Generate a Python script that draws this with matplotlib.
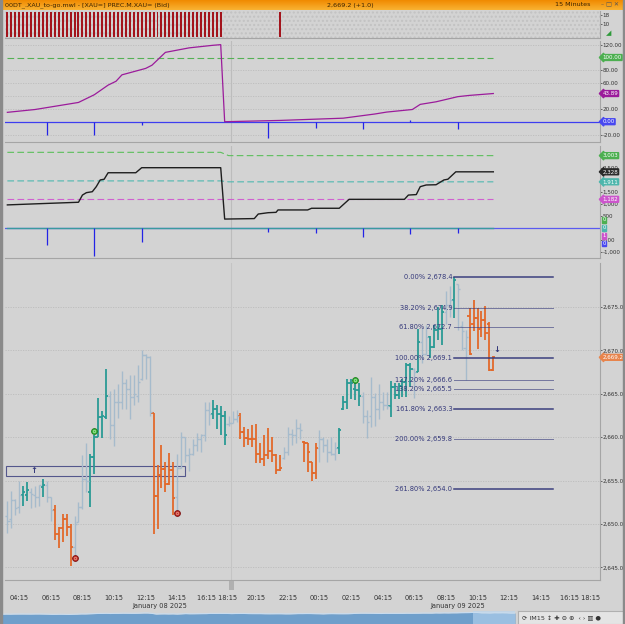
import matplotlib
matplotlib.use("Agg")
import matplotlib.pyplot as plt
from matplotlib.patches import Rectangle
from matplotlib.ticker import FixedLocator
import numpy as np

# ---- main chart: 15 minute OHLC bars, XAU ----
bar_open = [2650.9, 2650.6, 2652.8, 2652.0, 2653.3, 2653.3, 2653.7, 2653.3, 2653.1, 2654.3,
            2654.5, 2653.1, 2651.6, 2648.9, 2649.5, 2650.6, 2649.7, 2647.4, 2650.2, 2652.0,
            2655.2, 2653.7, 2657.7, 2660.0, 2662.3, 2662.3, 2664.8, 2661.4, 2664.0, 2664.1,
            2666.2, 2665.6, 2664.6, 2664.8, 2666.7, 2669.5, 2669.2, 2662.8, 2653.2, 2655.6,
            2656.3, 2654.6, 2656.2, 2653.1, 2656.4, 2660.0, 2657.9, 2658.1, 2659.1, 2659.8,
            2660.2, 2663.1, 2662.7, 2663.3, 2662.7, 2662.5, 2661.5, 2661.6, 2662.1, 2662.4,
            2660.6, 2659.9, 2659.8, 2659.8, 2658.1, 2657.5, 2657.9, 2658.4, 2658.0, 2656.2,
            2657.6, 2658.3, 2660.4, 2660.2, 2661.1, 2659.5, 2659.3, 2657.1, 2655.9, 2658.7,
            2659.8, 2659.1, 2658.3, 2658.1, 2658.7, 2663.3, 2664.1, 2666.2, 2665.6, 2665.4,
            2664.8, 2662.5, 2662.5, 2664.6, 2663.3, 2664.1, 2663.7, 2663.6, 2665.8, 2664.9,
            2665.9, 2666.4, 2668.3, 2667.9, 2667.5, 2671.0, 2669.6, 2671.5, 2670.4, 2672.3,
            2672.5, 2674.4, 2675.2, 2675.8, 2677.7, 2672.8, 2670.3, 2674.0, 2673.0, 2673.7,
            2672.5, 2673.5, 2673.0, 2667.7]
bar_high = [2652.7, 2653.8, 2652.9, 2655.0, 2654.4, 2654.8, 2654.2, 2654.4, 2654.5, 2655.2,
            2655.0, 2653.1, 2652.2, 2649.7, 2651.1, 2651.1, 2650.0, 2650.9, 2652.5, 2658.0,
            2659.3, 2658.1, 2660.2, 2664.5, 2663.0, 2667.9, 2665.3, 2665.6, 2666.1, 2667.6,
            2666.7, 2667.2, 2667.2, 2668.3, 2670.1, 2669.6, 2669.4, 2662.8, 2656.8, 2659.1,
            2657.2, 2658.2, 2657.1, 2658.1, 2660.6, 2660.0, 2658.7, 2659.8, 2660.5, 2660.4,
            2664.1, 2664.1, 2664.3, 2663.7, 2663.6, 2663.0, 2662.5, 2663.0, 2663.1, 2662.8,
            2661.2, 2661.0, 2661.4, 2661.5, 2659.3, 2660.2, 2661.1, 2660.0, 2658.1, 2658.0,
            2658.9, 2661.2, 2661.0, 2662.1, 2661.6, 2659.6, 2659.3, 2657.1, 2659.3, 2660.8,
            2660.0, 2659.8, 2660.0, 2659.4, 2661.1, 2664.8, 2666.7, 2666.7, 2666.2, 2666.2,
            2665.2, 2663.1, 2666.9, 2665.1, 2666.1, 2665.2, 2665.2, 2666.5, 2666.3, 2666.2,
            2666.7, 2668.5, 2668.6, 2668.0, 2672.5, 2672.6, 2672.9, 2671.7, 2672.9, 2675.0,
            2675.2, 2676.8, 2677.4, 2678.4, 2677.7, 2673.4, 2672.4, 2674.9, 2675.8, 2674.9,
            2674.5, 2675.1, 2673.3, 2669.4]
bar_low = [2649.0, 2649.5, 2651.0, 2651.3, 2652.1, 2652.6, 2651.8, 2652.0, 2652.1, 2653.1,
           2652.5, 2650.3, 2648.2, 2647.2, 2647.9, 2648.6, 2645.2, 2646.1, 2650.2, 2651.7,
           2653.7, 2652.0, 2655.8, 2660.0, 2659.9, 2662.1, 2659.8, 2659.0, 2662.2, 2663.3,
           2663.3, 2662.1, 2663.7, 2664.0, 2666.6, 2666.7, 2662.4, 2648.8, 2649.4, 2654.1,
           2653.7, 2654.5, 2651.0, 2651.3, 2656.4, 2657.1, 2656.1, 2657.9, 2658.4, 2658.3,
           2659.6, 2661.4, 2662.1, 2661.0, 2660.2, 2659.1, 2661.3, 2661.6, 2661.8, 2659.8,
           2658.9, 2659.1, 2658.9, 2657.0, 2657.0, 2656.7, 2657.5, 2657.1, 2655.8, 2656.1,
           2657.5, 2657.9, 2659.1, 2659.3, 2659.8, 2657.2, 2656.0, 2655.0, 2655.2, 2657.1,
           2658.3, 2657.1, 2657.9, 2657.4, 2658.1, 2663.1, 2663.3, 2664.4, 2664.3, 2663.6,
           2661.6, 2659.9, 2661.2, 2661.3, 2662.1, 2663.1, 2663.3, 2662.3, 2664.4, 2664.4,
           2664.6, 2664.6, 2665.8, 2664.5, 2667.5, 2668.5, 2669.5, 2669.1, 2670.3, 2671.2,
           2670.6, 2673.0, 2673.8, 2673.7, 2672.4, 2670.0, 2666.6, 2669.5, 2672.2, 2670.2,
           2671.6, 2671.2, 2667.6, 2667.6]
bar_close = [2650.4, 2652.8, 2651.8, 2653.3, 2653.7, 2653.9, 2653.5, 2653.1, 2654.5, 2654.5,
             2653.1, 2651.6, 2648.9, 2649.5, 2650.6, 2649.7, 2647.4, 2650.0, 2652.0, 2655.2,
             2655.0, 2657.7, 2660.0, 2662.3, 2662.5, 2664.8, 2661.4, 2664.0, 2664.1, 2666.2,
             2665.6, 2664.6, 2665.0, 2666.4, 2669.5, 2669.2, 2662.9, 2653.2, 2655.6, 2656.3,
             2654.6, 2656.2, 2653.0, 2656.4, 2660.0, 2657.9, 2658.1, 2659.1, 2659.8, 2660.2,
             2663.1, 2662.7, 2663.3, 2662.7, 2662.5, 2660.2, 2661.6, 2662.1, 2662.4, 2660.6,
             2659.9, 2659.8, 2659.8, 2658.1, 2657.5, 2657.9, 2658.4, 2658.0, 2656.2, 2656.4,
             2658.3, 2660.4, 2660.2, 2661.1, 2660.8, 2659.3, 2658.3, 2655.9, 2658.7, 2659.8,
             2659.1, 2658.3, 2658.1, 2658.7, 2660.8, 2664.1, 2666.2, 2666.3, 2665.4, 2664.8,
             2662.5, 2661.8, 2664.6, 2663.3, 2664.1, 2663.7, 2663.6, 2665.8, 2664.9, 2665.9,
             2666.4, 2668.3, 2667.9, 2667.5, 2671.0, 2669.6, 2671.5, 2670.4, 2672.3, 2672.5,
             2674.4, 2675.2, 2675.8, 2678.1, 2677.1, 2672.2, 2671.5, 2669.6, 2673.7, 2672.5,
             2673.5, 2672.0, 2667.7, 2669.2]
# g = neutral, t = up trend, o = down trend
bar_state = ("ggggttgggtggooooogggg" "tttttggggggggggg" "oooooo" "ggggggggg" "tttt" "ggg"
             "ooooooooooo" "ggggg" "oooo" "ggggg" "tttttt" "ggggggg" "tttttt" "g" "t" "gg"
             "tttt" "gg" "t" "ggg" "ooooooo")

fib_pct = ["0.00%", "38.20%", "61.80%", "100.00%", "127.20%", "138.20%", "161.80%", "200.00%", "261.80%"]
fib_price = [2678.4, 2674.9, 2672.7, 2669.1, 2666.6, 2665.5, 2663.3, 2659.8, 2654.0]
fib_strong = [True, False, False, True, False, False, True, False, True]

box_low, box_high = 2655.56, 2656.68
red_dots = [(17, 2646.1), (43, 2651.3)]
green_dots = [(22, 2660.7), (88, 2666.6)]

# ---- indicator panels ----
osc_idx = [0, 7, 10, 18, 22, 25.5, 27.5, 29, 35, 36.6, 40, 46, 52, 54,
           55, 69, 85, 93, 96, 102.5, 104.5, 108.5, 114, 117, 123]
osc_val = [14.6, 19, 22, 30, 42, 57, 63, 73, 83, 88, 108, 115, 119, 120,
           0, 2, 5.5, 12, 15, 19, 27, 31, 39, 41, 43.89]
spike_idx = [10, 22, 34, 66, 78, 90, 102, 114]
spike_osc = [-20, -21, -5, -25, -10, -12, 2, -11]
spike_vol = [-720, -1170, -610, -170, -200, -400, -260, -210]

cum_idx = [0, 8, 18, 19, 20, 21.5, 22.5, 23.5, 24.5, 25.5, 32.5, 34, 54, 55, 62.5, 63.5,
           66, 68, 68.5, 76, 77, 84, 86.5, 100.5, 101.5, 103.5, 104.5, 106, 108.5, 110.5,
           111.5, 113.5, 123]
cum_val = [950, 1000, 1060, 1360, 1460, 1500, 1710, 1990, 2020, 2290, 2290, 2500, 2500, 360,
           380, 570, 625, 640, 740, 740, 810, 810, 1182, 1182, 1360, 1380, 1710, 1780, 1790,
           1990, 2020, 2328, 2328]
upper_band = [3140, 3140, 3003, 3003]
mid_band = [1950, 1950, 1911, 1911]
band_idx = [0, 54, 56, 123]
low_band = 1182

alert_idx = list(range(0, 55)) + [69]

tick_pos = [3, 11, 19, 27, 35, 43, 53, 63, 71, 79, 87, 95, 103, 111, 119, 127, 135, 145]
tick_lab = ["04:15", "06:15", "08:15", "10:15", "12:15", "14:15", "16:15 18:15", "20:15",
            "22:15", "00:15", "02:15", "04:15", "06:15", "08:15", "10:15", "12:15", "14:15",
            "16:15 18:15"]

BG = "#d3d3d3"
GREY_BAR = "#a6bbcc"
TEAL = "#2a9a94"
ORANGE = "#e2692b"
NAVY = "#34387a"
W, H = 625, 624

fig = plt.figure(figsize=(W / 100, H / 100), dpi=100, facecolor=BG)


def pxax(x0, y0, x1, y1):
    return fig.add_axes([x0 / W, 1 - y1 / H, (x1 - x0) / W, (y1 - y0) / H])


XL = (-0.6, 150)


def style_panel(ax, ticks, labels):
    ax.set_facecolor(BG)
    ax.set_xlim(*XL)
    ax.set_xticks([])
    ax.yaxis.tick_right()
    ax.yaxis.set_major_locator(FixedLocator(ticks))
    ax.set_yticklabels(labels)
    ax.tick_params(axis="y", labelsize=4.1, length=1.2, pad=0.6, colors="#333333", width=0.5)
    for s in ax.spines.values():
        s.set_color("#a5a5a5")
        s.set_linewidth(0.8)
    ax.spines["left"].set_visible(False)
    ax.spines["top"].set_visible(False)


def tag(ax, y, text, fc, tc="white"):
    ax.text(1.004, y, text, transform=ax.get_yaxis_transform(), fontsize=4.0, color=tc,
            va="center", ha="left", zorder=10,
            bbox=dict(boxstyle="larrow,pad=0.08", fc=fc, ec=fc))


# ---- title bar ----
tb = pxax(0, 0, 625, 10)
tb.set_xlim(0, 1)
tb.set_ylim(0, 1)
tb.axis("off")
grad = np.linspace(0, 1, 50).reshape(-1, 1)
tb.imshow(grad, extent=[0, 1, 0, 1], aspect="auto",
          cmap=matplotlib.colors.LinearSegmentedColormap.from_list("t", ["#f08a00", "#f9b233"]))
tb.text(0.008, 0.5, "00DT_.XAU_to-go.mwl - [XAU=] PREC.M.XAU= (Bid)", fontsize=4.6, va="center", color="#3a2200")
tb.text(0.56, 0.5, "2,669.2 (+1.0)", fontsize=4.6, va="center", ha="center", color="#3a2200")
tb.text(0.945, 0.5, "15 Minutes", fontsize=4.6, va="center", ha="right", color="#3a2200")
tb.text(0.99, 0.5, "\u2013 \u25a1 \u2715", fontsize=4.4, va="center", ha="right", color="#555555")

# ---- panel 1: alert bars ----
ax1 = pxax(5, 11, 600, 38)
style_panel(ax1, [18, 10], ["18", "10"])
ax1.set_ylim(-2.4, 21.6)
ax1.add_patch(Rectangle((XL[0], -2.4), 150.6, 24, fc=BG, ec="#c2c2c2", hatch="....", lw=0, zorder=0))
ax1.bar(alert_idx, [22.3] * len(alert_idx), bottom=-1.6, width=0.5, color="#a3141c", zorder=2)
ax1.text(1.01, 0.1, "\u25e2", transform=ax1.transAxes, fontsize=5, color="#2e9a3a")

# ---- panel 2: oscillator ----
ax2 = pxax(5, 41, 600, 142)
style_panel(ax2, [120, 80, 60, 20, -20], ["120.00", "80.00", "60.00", "20.00", "-20.00"])
ax2.set_ylim(-31.6, 125.7)
for g in [120, 80, 60, 40, 20, -20]:
    ax2.axhline(g, color="#bcbcbc", lw=0.6, ls=(0, (1.5, 1.5)), zorder=0)
ax2.axvline(56.5, color="#bcbcbc", lw=0.8, zorder=0)
ax2.plot([0, 123], [100, 100], color="#55b055", lw=0.8, ls=(0, (6, 3)))
ax2.axhline(0, color="#3d3df0", lw=0.9)
ax2.vlines(spike_idx, 0, spike_osc, color="#2323e6", lw=0.9)
ax2.plot(osc_idx, osc_val, color="#9b1b9b", lw=0.9)
tag(ax2, 100, "100.00", "#4caf50")
tag(ax2, 43.89, "43.89", "#9b1b9b")
tag(ax2, 0, "0.00", "#4848f0")

# ---- panel 3: cumulative ----
ax3 = pxax(5, 146, 600, 258)
style_panel(ax3, [2500, 1500, 1000, 500, -500, -1000],
            ["2,500", "1,500", "1,000", "500", "-500", "-1,000"])
ax3.set_ylim(-1262, 3404)
ax3.axvline(56.5, color="#bcbcbc", lw=0.8, zorder=0)
ax3.plot(band_idx, upper_band, color="#5cbf5c", lw=0.8, ls=(0, (6, 3)))
ax3.plot(band_idx, mid_band, color="#4fb8b0", lw=0.8, ls=(0, (6, 3)))
ax3.plot([0, 123], [low_band, low_band], color="#d060d0", lw=0.8, ls=(0, (6, 3)))
ax3.axhline(0, color="#5a5af0", lw=0.9)
ax3.plot([0, 123], [0, 0], color="#3a9aa0", lw=1.0)
ax3.vlines(spike_idx, 0, spike_vol, color="#2323e6", lw=0.9)
ax3.plot(cum_idx, cum_val, color="#1e1e1e", lw=1.0)
tag(ax3, 3003, "3,003", "#4caf50")
tag(ax3, 2328, "2,328", "#2a2a2a")
tag(ax3, 1911, "1,911", "#4db6ac")
tag(ax3, 1182, "1,182", "#cc55cc")
for yv, lab, c in [(330, "0", "#4caf50"), (0, "0", "#4db6ac"), (-330, "1", "#cc55cc"), (-660, "0", "#4848f0")]:
    ax3.text(1.004, yv, lab, transform=ax3.get_yaxis_transform(), fontsize=3.8, color="white",
             va="center", ha="left", zorder=10, bbox=dict(boxstyle="square,pad=0.08", fc=c, ec=c))

# ---- main chart ----
ax = pxax(5, 263, 600, 580)
style_panel(ax, [2675, 2670, 2665, 2660, 2655, 2650, 2645],
            ["2,675.0", "2,670.0", "2,665.0", "2,660.0", "2,655.0", "2,650.0", "2,645.0"])
ax.set_ylim(2643.55, 2680.07)
for g in [2675, 2670, 2665, 2660, 2655, 2650, 2645]:
    ax.axhline(g, color="#bcbcbc", lw=0.6, ls=(0, (1.5, 1.5)), zorder=0)
ax.axvline(56.5, color="#c4c4c4", lw=0.8, zorder=0)

cmap = {"g": GREY_BAR, "t": TEAL, "o": ORANGE}
idx = np.arange(len(bar_close))
cols = [cmap[s] for s in bar_state]
lws = [1.0 if s == "g" else 1.3 for s in bar_state]
ax.vlines(idx, bar_low, bar_high, colors=cols, linewidths=lws, zorder=3)
ax.hlines(bar_open, idx - 0.55, idx, colors=cols, linewidths=lws, zorder=3)
ax.hlines(bar_close, idx, idx + 0.55, colors=cols, linewidths=lws, zorder=3)

# rectangle zone
ax.add_patch(Rectangle((-0.3, box_low), 45.3, box_high - box_low, fc="none", ec=NAVY,
                       lw=0.8, alpha=0.8, zorder=2))
ax.text(6.7, box_low + 0.05, "\u2191", color=NAVY, fontsize=6, fontweight="bold",
        ha="center", va="bottom", zorder=5)
ax.text(124, 2669.6, "\u2193", color=NAVY, fontsize=6, fontweight="bold",
        ha="center", va="bottom", zorder=5)

# signal dots
for xi, yi in red_dots:
    ax.plot(xi, yi, "o", ms=4.2, mfc="#c0302a", mec="#7a1010", mew=0.6, zorder=6)
    ax.plot(xi, yi, "o", ms=1.8, mfc="none", mec="#f0b0a0", mew=0.4, zorder=7)
for xi, yi in green_dots:
    ax.plot(xi, yi, "o", ms=4.2, mfc="#3cb83c", mec="#1d7a1d", mew=0.6, zorder=6)
    ax.plot(xi, yi, "o", ms=1.8, mfc="none", mec="#c8f0c0", mew=0.4, zorder=7)

# fibonacci extension
for pct, pr, strong in zip(fib_pct, fib_price, fib_strong):
    ax.plot([113, 138], [pr, pr], color=NAVY, lw=1.1 if strong else 0.7,
            alpha=0.95 if strong else 0.6, zorder=4)
    ax.text(112.6, pr, f"{pct} {pr:,.1f}", fontsize=4.8, color=NAVY, ha="right",
            va="center", zorder=5)

tag(ax, 2669.2, "2,669.2", "#e8844c")

# ---- time axis ----
axt = pxax(5, 580, 600, 610)
axt.set_xlim(*XL)
axt.set_ylim(0, 30)
axt.axis("off")
for p, lab in zip(tick_pos, tick_lab):
    axt.text(p, 12, lab, fontsize=4.8, ha="center", va="center", color="#333333")
axt.text(38.5, 4, "January 08 2025", fontsize=4.8, ha="center", va="center", color="#333333")
axt.text(114, 4, "January 09 2025", fontsize=4.8, ha="center", va="center", color="#333333")
axt.add_patch(Rectangle((56.2, 20.5), 1.2, 9, fc="#b0b0b0", ec="none"))

# ---- navigator ----
axn = pxax(2, 611, 515, 624)
axn.set_xlim(0, len(bar_close) - 1)
axn.set_ylim(2500, 2700)
axn.axis("off")
axn.fill_between(idx, bar_close, 2500, color="#6f9fcb", lw=0)
axn.plot(idx, bar_close, color="#c9dcee", lw=0.8)
axn.axvspan(113, len(bar_close) - 1, color="#b8d6f0", alpha=0.6, lw=0)
axt2 = pxax(518, 611, 625, 624)
axt2.set_facecolor("#e4e4e4")
axt2.set_xticks([])
axt2.set_yticks([])
for s in axt2.spines.values():
    s.set_color("#b0b0b0")
axt2.text(0.04, 0.45, "\u27f3 IM15 \u2195 \u271a \u2296 \u2295  \u2039 \u203a \u25a5 \u25cf",
          transform=axt2.transAxes, fontsize=4.6, va="center", color="#333333")

# window border
fig.add_artist(Rectangle((0, 0), 2 / W, 1, transform=fig.transFigure, color="#8a8a8a"))
fig.add_artist(Rectangle((1 - 2 / W, 0), 2 / W, 1, transform=fig.transFigure, color="#8a8a8a"))

fig.savefig("out.png", dpi=100, facecolor=BG)
